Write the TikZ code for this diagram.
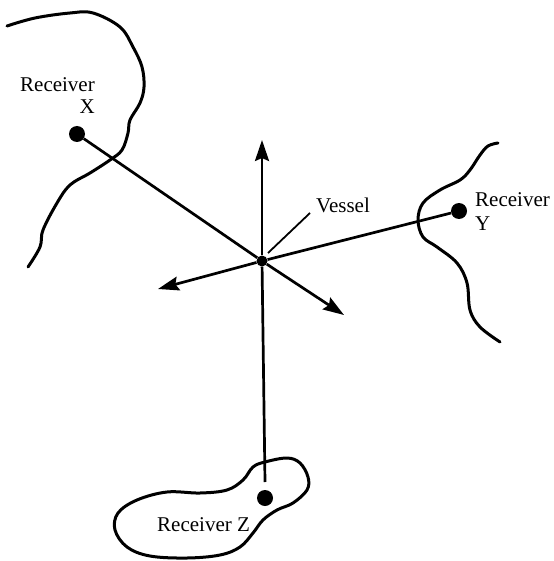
\documentclass[tikz,border=0pt]{standalone}
\usepackage{fontspec}
\setmainfont{Liberation Serif}
\usetikzlibrary{arrows.meta}
\begin{document}
\begin{tikzpicture}[x=1pt,y=-1pt,
  dot/.style={circle,fill=black,inner sep=0pt,minimum size=#1},
  link/.style={line width=2.7pt},
  shore/.style={line width=3pt,line cap=round,line join=round},
  axis/.style={line width=2.7pt,-{Stealth[length=21pt,width=14pt,inset=3pt]}},
  lbl/.style={inner sep=0pt,font=\fontsize{21}{22}\selectfont}]
\useasboundingbox (0,0) rectangle (553,561);
% receivers and vessel
\node[dot=11pt] (V) at (262,261) {};
\node[dot=16pt] (X) at (77,134) {};
\node[dot=16pt] (Y) at (459,211) {};
\node[dot=16pt] (Z) at (265,498) {};
\coordinate (tN) at (262,140);
\coordinate (tW) at (158,289);
\coordinate (tSE) at (344,315);
\coordinate (zEnd) at (265,482);
\coordinate (vA) at (310,213);
\coordinate (vB) at (268,253);
% coast lines
\draw[shore] plot[smooth,tension=0.6] coordinates {(7,26) (35,18) (70,13) (93,13) (120,27) (133,47) (142,67) (144,87) (140,103) (130,120) (128,133) (122,150) (110,160) (90,173) (70,185) (57,203) (43,230) (40,247) (28,267)};
\draw[shore] plot[smooth,tension=0.6] coordinates {(498,143) (488,146) (480,155) (470,170) (460,180) (440,190) (423,203) (418,220) (423,237) (437,247) (457,263) (467,283) (470,310) (480,327) (500,342)};
\draw[shore] plot[smooth cycle,tension=0.6] coordinates {(265,462) (287,458) (300,463) (308,477) (307,490) (293,503) (277,510) (263,520) (253,533) (240,547) (220,555) (187,558) (150,556) (127,547) (115,530) (118,513) (137,500) (167,492) (200,493) (227,490) (243,480) (253,467)};
% lines
\draw[link] (X) -- (V);
\draw[link] (Y) -- (V);
\draw[axis] (V) -- (tN);
\draw[axis] (V) -- (tW);
\draw[axis] (V) -- (tSE);
\draw[link] (V) -- (zEnd);
\draw[line width=1.8pt] (vA) -- (vB);
% labels
\node[lbl,anchor=base west] (lv) at (316,212) {Vessel};
\node[lbl,anchor=base east] (lxa) at (95,92) {Receiver};
\node[lbl,anchor=base east] (lxb) at (95,114) {X};
\node[lbl,anchor=base west] (lya) at (475,206) {Receiver};
\node[lbl,anchor=base west] (lyb) at (475,230) {Y};
\node[lbl,anchor=base west] (lz) at (157,531) {Receiver Z};
\end{tikzpicture}
\end{document}
